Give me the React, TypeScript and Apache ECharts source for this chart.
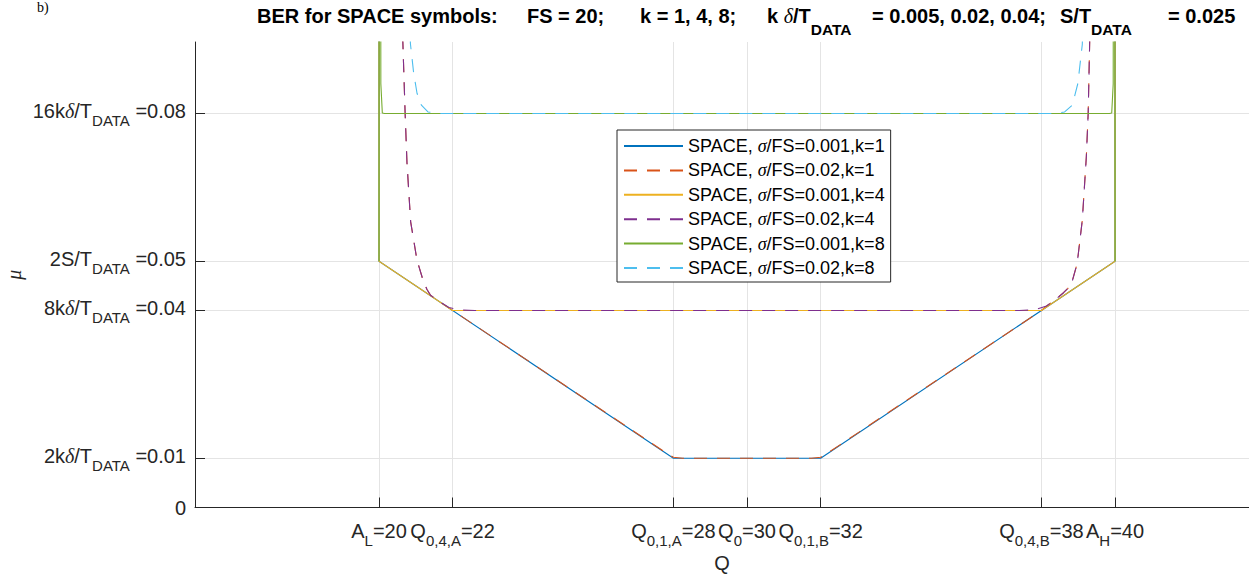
import React, { useEffect, useRef } from 'react';
import * as echarts from 'echarts';

const FONT = 'Liberation Sans';
const SERIF = 'Liberation Serif';
const AXIS_COLOR = '#262626';
const GRID_COLOR = '#e4e4e4';

// ---- axis ticks ----
const xTickValues = [20, 22, 28, 30, 32, 38, 40];
const xTickLabels = [
  '{m|A}{s|L}{m|=20}',
  '{m|Q}{s|0,4,A}{m|=22}',
  '{m|Q}{s|0,1,A}{m|=28}',
  '{m|Q}{s|0}{m|=30}',
  '{m|Q}{s|0,1,B}{m|=32}',
  '{m|Q}{s|0,4,B}{m|=38}',
  '{m|A}{s|H}{m|=40}',
];
const yTickValues = [0, 0.01, 0.04, 0.05, 0.08];
const yTickLabels = [
  '{z|0}',
  '{m|2k}{d|δ}{m|/T}{s|DATA}{m| =0.01}',
  '{m|8k}{d|δ}{m|/T}{s|DATA}{m| =0.04}',
  '{m|2S/T}{s|DATA}{m| =0.05}',
  '{m|16k}{d|δ}{m|/T}{s|DATA}{m| =0.08}',
];

// ---- title pieces ----
const titlePieces = [
  '{m|BER for SPACE symbols:}',
  '{m|FS = 20;}',
  '{m|k = 1, 4, 8;}',
  '{m|k\u00a0}{d|δ}{m|/T}{s|DATA}',
  '{m|= 0.005, 0.02, 0.04;}',
  '{m|S/T}{s|DATA}',
  '{m|= 0.025}',
];
const titlePieceX = [257, 527, 640, 767, 872, 1060, 1168];

// ---- series ----
const seriesNames = [
  'SPACE, σ/FS=0.001,k=1',
  'SPACE, σ/FS=0.02,k=1',
  'SPACE, σ/FS=0.001,k=4',
  'SPACE, σ/FS=0.02,k=4',
  'SPACE, σ/FS=0.001,k=8',
  'SPACE, σ/FS=0.02,k=8',
];
const seriesColors = ['#0072BD', '#D95319', '#EDB120', '#7E2F8E', '#77AC30', '#4DBEEE'];
const seriesDashed = [false, true, false, true, false, true];

// sigma/FS = 0.001, k = 1
const qS001K1 = [20, 20, 28, 32, 40, 40];
const muS001K1 = [0.3, 0.05, 0.01, 0.01, 0.05, 0.3];

// sigma/FS = 0.02, k = 1
const qS02K1 = [20.6, 20.65, 20.71, 20.76, 20.86, 21.03, 21.19, 21.3, 21.4, 21.6, 22.0, 27.8, 28.0, 28.25,
  31.75, 32.0, 32.2, 38.0, 38.14, 38.41, 38.6, 38.72, 38.82, 38.97, 39.11, 39.22, 39.27, 39.31, 39.35];
const muS02K1 = [0.105, 0.094, 0.08, 0.07, 0.058, 0.0503, 0.0463, 0.0443, 0.0431, 0.042, 0.04, 0.0111, 0.0102, 0.01,
  0.01, 0.0102, 0.0111, 0.04, 0.0409, 0.0424, 0.0436, 0.0445, 0.0455, 0.0495, 0.0583, 0.0712, 0.08, 0.0942, 0.105];

// sigma/FS = 0.001, k = 4
const qS001K4 = [20, 20, 22, 38, 40, 40];
const muS001K4 = [0.3, 0.05, 0.04, 0.04, 0.05, 0.3];

// sigma/FS = 0.02, k = 4
const qS02K4 = [20.6, 20.65, 20.71, 20.76, 20.86, 21.03, 21.19, 21.3, 21.4, 21.6, 21.9, 22.2, 22.6,
  37.4, 37.8, 38.14, 38.41, 38.6, 38.72, 38.82, 38.97, 39.11, 39.22, 39.27, 39.31, 39.35];
const muS02K4 = [0.105, 0.094, 0.08, 0.07, 0.058, 0.0503, 0.0463, 0.0443, 0.0431, 0.042, 0.0406, 0.0401, 0.04,
  0.04, 0.0401, 0.0409, 0.0424, 0.0436, 0.0445, 0.0455, 0.0495, 0.0583, 0.0712, 0.08, 0.0942, 0.105];

// sigma/FS = 0.001, k = 8
const qS001K8 = [20, 20.02, 20.05, 20.09, 20.15, 39.85, 39.91, 39.95, 39.98, 40];
const muS001K8 = [0.05, 0.3, 0.086, 0.0801, 0.08, 0.08, 0.0801, 0.086, 0.3, 0.05];

// sigma/FS = 0.02, k = 8
const qS02K8 = [20.82, 20.853, 20.943, 21.033, 21.152, 21.33, 21.65, 38.35, 38.63, 38.84, 38.99, 39.11, 39.15];
const muS02K8 = [0.105, 0.0942, 0.0881, 0.0841, 0.0817, 0.0803, 0.08, 0.08, 0.0803, 0.0817, 0.0861, 0.094, 0.105];

const seriesQ = [qS001K1, qS02K1, qS001K4, qS02K4, qS001K8, qS02K8];
const seriesMu = [muS001K1, muS02K1, muS001K4, muS02K4, muS001K8, muS02K8];

function findIdx(arr: number[], v: number) {
  for (let i = 0; i < arr.length; i++) if (Math.abs(arr[i] - v) < 1e-9) return i;
  return -1;
}

const tickRich = {
  m: { fontSize: 20, fontFamily: FONT, color: AXIS_COLOR, padding: [3, 0, 7, 0], lineHeight: 30 },
  z: { fontSize: 20, fontFamily: FONT, color: AXIS_COLOR, padding: [5, 0, 5, 0], lineHeight: 30 },
  d: { fontSize: 20, fontFamily: SERIF, fontStyle: 'italic', color: AXIS_COLOR, padding: [3, 0, 7, 0], lineHeight: 30 },
  s: { fontSize: 15, fontFamily: FONT, color: AXIS_COLOR, padding: [15, 0, 0, 0], lineHeight: 30 },
};

const titleRich = {
  m: { fontSize: 20, fontWeight: 'bold', fontFamily: FONT, fill: '#000', padding: [0, 0, 12, 0], lineHeight: 32 },
  d: { fontSize: 20, fontStyle: 'italic', fontFamily: SERIF, fill: '#000', padding: [0, 0, 12, 0], lineHeight: 32 },
  s: { fontSize: 15.5, fontWeight: 'bold', fontFamily: FONT, fill: '#000', padding: [15, 0, 1.5, 0], lineHeight: 32 },
};

export default function App() {
  const ref = useRef<HTMLDivElement>(null);
  useEffect(() => {
    const chart = echarts.init(ref.current!, null, { renderer: 'svg' });
    const series = seriesNames.map((name, i) => ({
      name,
      type: 'line',
      data: seriesQ[i].map((q, j) => [q, seriesMu[i][j]]),
      showSymbol: false,
      symbol: 'none',
      clip: true,
      silent: true,
      z: 2,
      color: seriesColors[i],
      itemStyle: { color: seriesColors[i] },
      lineStyle: { color: seriesColors[i], width: 1.1, type: seriesDashed[i] ? [13, 10] : 'solid' },
      emphasis: { disabled: true },
    }));
    const titleGraphics = titlePieces.map((t, i) => ({
      type: 'text',
      x: titlePieceX[i],
      y: 6.3,
      silent: true,
      style: { text: t, align: 'left', verticalAlign: 'top', fill: '#000', rich: titleRich },
    }));
    const option: any = {
      animation: false,
      backgroundColor: '#ffffff',
      grid: { left: 195, right: 0, top: 42, bottom: 67.5, containLabel: false, outerBoundsMode: 'none' },
      xAxis: {
        type: 'value',
        min: 15,
        max: 43.64,
        name: 'Q',
        nameLocation: 'middle',
        nameGap: 45,
        nameMoveOverlap: false,
        nameTextStyle: { fontSize: 20, fontFamily: FONT, color: AXIS_COLOR },
        axisLine: { show: true, onZero: false, lineStyle: { color: AXIS_COLOR, width: 1 } },
        axisTick: { show: true, inside: true, length: 10, customValues: xTickValues, lineStyle: { color: AXIS_COLOR } },
        axisLabel: {
          customValues: xTickValues,
          hideOverlap: false,
          margin: 10,
          formatter: (v: number) => {
            const i = findIdx(xTickValues, v);
            return i >= 0 ? xTickLabels[i] : '';
          },
          rich: tickRich,
        },
        splitLine: { show: true, lineStyle: { color: GRID_COLOR, width: 1 } },
      },
      yAxis: {
        type: 'value',
        min: 0,
        max: 0.0945,
        name: 'μ',
        nameLocation: 'middle',
        nameGap: 171,
        nameRotate: 90,
        nameMoveOverlap: false,
        nameTextStyle: { fontSize: 20, fontFamily: SERIF, fontStyle: 'italic', color: AXIS_COLOR },
        axisLine: { show: true, onZero: false, lineStyle: { color: AXIS_COLOR, width: 1 } },
        axisTick: { show: true, inside: true, length: 10, customValues: yTickValues, lineStyle: { color: AXIS_COLOR } },
        axisLabel: {
          customValues: yTickValues,
          hideOverlap: false,
          margin: 9,
          formatter: (v: number) => {
            const i = findIdx(yTickValues, v);
            return i >= 0 ? yTickLabels[i] : '';
          },
          rich: tickRich,
        },
        splitLine: { show: true, lineStyle: { color: GRID_COLOR, width: 1 } },
      },
      legend: {
        show: true,
        orient: 'vertical',
        left: 617,
        top: 130,
        padding: [7, 6, 5, 6],
        itemWidth: 59,
        itemHeight: 10,
        itemGap: 6.4,
        backgroundColor: '#ffffff',
        borderColor: AXIS_COLOR,
        borderWidth: 1,
        borderRadius: 0,
        selectedMode: false,
        data: seriesNames,
        itemStyle: { opacity: 0 },
        formatter: (name: string) => {
          const parts = name.split('σ');
          return '{n|' + parts[0] + '}{i|σ}{n|' + parts[1] + '}';
        },
        textStyle: {
          fontSize: 18,
          fontFamily: FONT,
          color: '#000',
          rich: {
            n: { fontSize: 18, fontFamily: FONT, color: '#000', lineHeight: 20 },
            i: { fontSize: 18, fontFamily: SERIF, fontStyle: 'italic', color: '#000', lineHeight: 20 },
          },
        },
      },
      graphic: [
        ...titleGraphics,
        {
          type: 'text',
          x: 37,
          y: 0,
          silent: true,
          style: { text: 'b)', font: '14px "Liberation Serif"', fill: '#000', verticalAlign: 'top' },
        },
      ],
      series,
    };
    chart.setOption(option);
    return () => chart.dispose();
  }, []);
  return (
    <div
      ref={ref}
      style={{ position: 'absolute', left: 0, top: 0, width: 1249, height: 575, background: '#fff' }}
    />
  );
}
